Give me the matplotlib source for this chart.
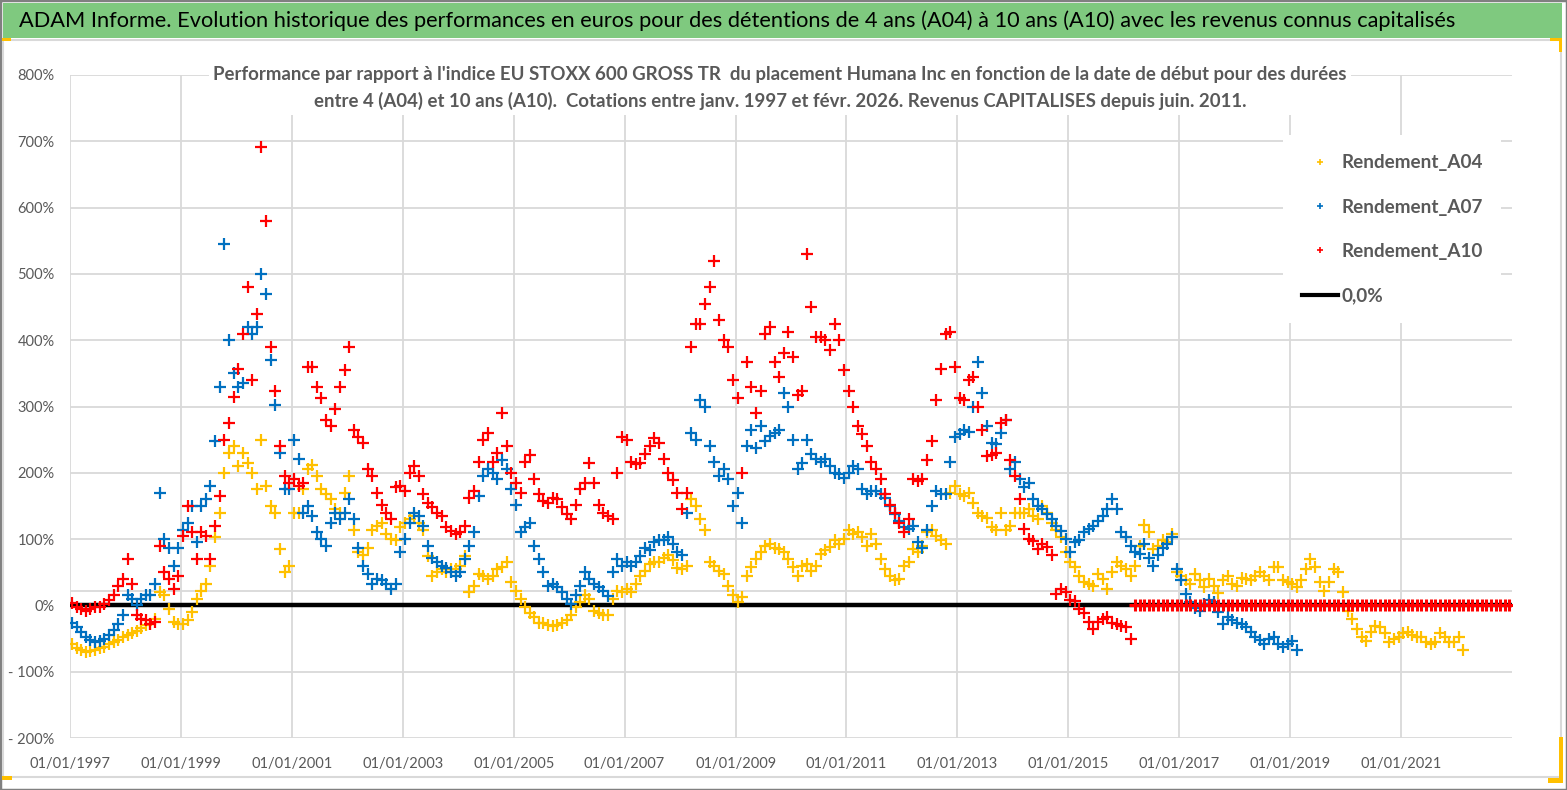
import matplotlib
matplotlib.use("Agg")
import matplotlib.pyplot as plt
import matplotlib.dates as mdates
from matplotlib.lines import Line2D
from matplotlib.patches import Rectangle
from matplotlib.ticker import FixedLocator, FuncFormatter
import pandas as pd

W, H = 1567, 790
FONT = ["Lato", "Liberation Sans", "DejaVu Sans"]
plt.rcParams["font.family"] = FONT

TITLE = ("ADAM Informe. Evolution historique des performances en euros pour des détentions "
         "de 4 ans (A04) à 10 ans (A10) avec les revenus connus capitalisés")
SUBTITLE = ("Performance par rapport à l'indice EU STOXX 600 GROSS TR  du placement Humana Inc "
            "en fonction de la date de début pour des durées\n"
            "entre 4 (A04) et 10 ans (A10).  Cotations entre janv. 1997 et févr. 2026. "
            "Revenus CAPITALISES depuis juin. 2011.")

# monthly readings in %, one row per year, starting January 1997
a04 = [
    -58, -64, -68, -70, -69, -67, -65, -62, -58, -55, -52, -48,
    -45, -42, -38, -34, -30, -28, -20, 20, 15, -5, -25, -28,
    -28, -22, -10, 10, 22, 33, 60, 103, 140, 200, 230, 240,
    210, 230, 215, 200, 175, 250, 180, 150, 140, 85, 50, 60,
    140, 140, 175, 205, 212, 195, 175, 168, 160, 145, 140, 170,
    195, 114, 80, 76, 87, 114, 120, 125, 108, 100, 98, 119,
    125, 130, 135, 125, 114, 75, 45, 50, 55, 50, 55, 55,
    60, 75, 20, 30, 48, 44, 40, 45, 55, 58, 66, 35,
    22, 10, -2, -12, -18, -26, -27, -30, -31, -29, -26, -22,
    -15, -2, 5, 15, 10, -8, -12, -15, -14, 10, 22, 20,
    25, 20, 33, 45, 52, 62, 66, 66, 72, 76, 68, 56,
    55, 60, 160, 150, 130, 114, 66, 60, 52, 48, 30, 15,
    5, 12, 44, 58, 70, 80, 90, 92, 87, 85, 80, 70,
    58, 45, 60, 62, 52, 60, 78, 84, 88, 98, 92, 100,
    114, 108, 110, 103, 90, 108, 92, 70, 55, 45, 39, 40,
    60, 66, 85, 80, 90, 110, 114, 105, 98, 92, 170, 180,
    168, 165, 170, 155, 140, 135, 132, 119, 114, 140, 114, 120,
    140, 140, 140, 146, 135, 130, 150, 140, 125, 114, 103, 81,
    66, 58, 45, 35, 33, 30, 48, 40, 25, 50, 66, 60,
    55, 45, 60, 90, 122, 110, 85, 90, 98, 95, 108, 50,
    44, 38, 33, 48, 38, 28, 40, 30, 18, 38, 44, 33,
    30, 42, 40, 38, 44, 50, 45, 39, 58, 58, 39, 35,
    33, 28, 38, 55, 70, 58, 35, 22, 35, 55, 50, 20,
    -8, -20, -35, -47, -53, -40, -31, -33, -42, -55, -50, -47,
    -42, -40, -45, -47, -47, -55, -58, -55, -42, -47, -55, -55,
    -47, -68,
]

a07 = [
    -26, -33, -40, -47, -52, -55, -54, -50, -45, -37, -28, -15,
    15, 10, 0, 10, 15, 15, 33, 170, 100, 87, 60, 87,
    114, 125, 150, 95, 150, 160, 180, 248, 330, 545, 400, 350,
    329, 335, 420, 410, 420, 500, 470, 370, 302, 230, 175, 175,
    250, 221, 140, 150, 135, 110, 100, 90, 125, 140, 130, 140,
    160, 130, 87, 60, 47, 33, 40, 38, 33, 25, 33, 80,
    100, 125, 140, 135, 120, 90, 71, 65, 60, 57, 50, 44,
    50, 70, 90, 110, 165, 195, 205, 200, 190, 220, 205, 175,
    152, 110, 119, 125, 90, 70, 50, 30, 33, 28, 20, 10,
    2, 15, 30, 50, 40, 33, 28, 22, 14, 50, 70, 60,
    66, 60, 66, 75, 87, 83, 95, 98, 98, 103, 92, 80,
    76, 140, 260, 250, 310, 300, 240, 216, 195, 205, 190, 150,
    170, 125, 240, 265, 238, 270, 248, 255, 260, 265, 320, 300,
    250, 205, 215, 250, 228, 221, 216, 221, 210, 200, 198, 192,
    200, 210, 205, 175, 168, 173, 172, 168, 162, 150, 138, 128,
    119, 115, 120, 95, 87, 114, 150, 172, 168, 168, 216, 254,
    259, 265, 262, 300, 367, 320, 270, 245, 243, 260, 280, 205,
    216, 190, 178, 185, 160, 150, 145, 138, 130, 120, 112, 100,
    80, 95, 98, 110, 115, 120, 128, 135, 145, 160, 145, 110,
    103, 90, 81, 78, 92, 71, 60, 76, 87, 92, 103, 55,
    39, 17, 5, -4, -8, 2, 8, 5, -10, -28, -17, -22,
    -26, -28, -33, -40, -47, -52, -58, -50, -48, -58, -62, -58,
    -53, -68,
]

a10 = [
    4, -2, -5, -8, -5, -3, -2, 2, 8, 15, 30, 40,
    70, 33, -15, -20, -22, -28, -25, 90, 50, 40, 25, 45,
    105, 150, 110, 70, 110, 105, 70, 120, 165, 250, 275, 315,
    356, 410, 480, 340, 440, 692, 580, 390, 324, 240, 195, 185,
    190, 180, 185, 360, 360, 330, 313, 280, 270, 296, 330, 355,
    390, 265, 254, 245, 205, 195, 170, 152, 140, 130, 178, 180,
    173, 200, 210, 195, 168, 155, 148, 140, 135, 118, 112, 108,
    110, 120, 162, 173, 216, 250, 260, 216, 230, 290, 240, 200,
    184, 170, 216, 227, 190, 168, 157, 155, 162, 160, 148, 138,
    130, 152, 175, 185, 215, 185, 152, 140, 135, 130, 200, 254,
    250, 216, 213, 215, 228, 240, 252, 245, 221, 200, 189, 170,
    146, 170, 390, 425, 425, 455, 480, 520, 430, 400, 390, 340,
    313, 200, 367, 330, 290, 324, 410, 420, 367, 345, 380, 412,
    375, 318, 324, 530, 450, 405, 405, 400, 385, 425, 400, 355,
    324, 300, 270, 258, 240, 216, 205, 190, 168, 152, 140, 125,
    110, 130, 190, 188, 190, 220, 248, 310, 356, 410, 412, 360,
    313, 310, 340, 345, 300, 265, 225, 227, 230, 275, 280, 220,
    195, 160, 115, 100, 97, 85, 92, 88, 76, 17, 25, 20,
    8, 6, -5, -12, -25, -35, -25, -20, -17, -26, -28, -31,
    -33, -50,
]
# after Feb 2016 the 10-year series is shown at 0 until the end of the axis
a10_flat_start = "2016-03"
a10_flat = [0] * 82

x_tick_labels = ["01/01/1997", "01/01/1999", "01/01/2001", "01/01/2003", "01/01/2005",
                 "01/01/2007", "01/01/2009", "01/01/2011", "01/01/2013", "01/01/2015",
                 "01/01/2017", "01/01/2019", "01/01/2021"]
y_ticks = [-200, -100, 0, 100, 200, 300, 400, 500, 600, 700, 800]

YELLOW, BLUE, RED = "#FFC000", "#0070C0", "#FF0000"
GREY_TXT, GRID = "#595959", "#D9D9D9"


def months(start, values):
    return pd.date_range(start, periods=len(values), freq="MS") + pd.Timedelta(days=14)


fig = plt.figure(figsize=(W / 100, H / 100), dpi=100)

# frame, green title band and small yellow handles
fig.patches.append(Rectangle((0, 0), 1, 1, transform=fig.transFigure, fill=False,
                             edgecolor="#808080", lw=2.5))
fig.patches.append(Rectangle((3 / W, 1 - 38 / H), 1559 / W, 35 / H, transform=fig.transFigure,
                             facecolor="#7FC97F", edgecolor="none"))
fig.patches.append(Rectangle((3 / W, 1 - 777 / H), 1558 / W, 737 / H, transform=fig.transFigure,
                             fill=False, edgecolor=GRID, lw=1.5))
for (x0, y0, w, h) in [(2, 38, 9, 3), (1550, 38, 12, 3), (1559, 38, 3, 14),
                       (1559, 737, 4, 46), (1548, 778, 15, 5), (2, 776, 10, 4)]:
    fig.patches.append(Rectangle((x0 / W, 1 - (y0 + h) / H), w / W, h / H,
                                 transform=fig.transFigure, facecolor="#FFC000",
                                 edgecolor="none"))

fig.text(737 / W, 1 - 21 / H, TITLE, ha="center", va="center", fontsize=15.7, color="black")

ax = fig.add_axes([70 / W, 1 - 738 / H, (1512 - 70) / W, (738 - 75) / H])

ax.axhline(0, color="black", lw=3.2, zorder=2)
ax.axhline(22, color=GRID, lw=1.3, zorder=1)

ax.plot(months("1997-01", a04), a04, ls="none", marker="+", ms=8, mew=1.6,
        color=YELLOW, zorder=3)
ax.plot(months("1997-01", a07), a07, ls="none", marker="+", ms=8, mew=1.6,
        color=BLUE, zorder=4)
ax.plot(months("1997-01", a10), a10, ls="none", marker="+", ms=8, mew=1.6,
        color=RED, zorder=5)
ax.plot(months(a10_flat_start, a10_flat), a10_flat, ls="none", marker="+", ms=8, mew=2.2,
        color=RED, zorder=5)

ax.set_xlim(pd.Timestamp("1997-01-01"), pd.Timestamp("2023-01-01"))
ax.set_ylim(-200, 800)
tick_dates = pd.to_datetime(x_tick_labels, format="%d/%m/%Y")
ax.xaxis.set_major_locator(FixedLocator(mdates.date2num(tick_dates)))
ax.xaxis.set_major_formatter(FuncFormatter(lambda v, p: mdates.num2date(v).strftime("%d/%m/%Y")))
ax.yaxis.set_major_locator(FixedLocator(y_ticks))
ax.yaxis.set_major_formatter(FuncFormatter(
    lambda v, p: f"{v:.0f}%" if v >= 0 else f"- {abs(v):.0f}%"))
ax.grid(True, color=GRID, lw=1.3, zorder=0)
ax.set_axisbelow(True)
for s in ax.spines.values():
    s.set_visible(False)
ax.tick_params(length=0, colors=GREY_TXT, labelsize=10.5)
ax.tick_params(axis="x", pad=14)
ax.tick_params(axis="y", pad=11)

fig.text(780 / W, 1 - 88 / H, SUBTITLE, ha="center", va="center", fontsize=13.4,
         fontweight="bold", color=GREY_TXT, linespacing=1.65,
         bbox=dict(facecolor="white", edgecolor="none", pad=3), zorder=6)

handles = [
    Line2D([], [], ls="none", marker="+", ms=5, mew=1.2, color=YELLOW),
    Line2D([], [], ls="none", marker="+", ms=5, mew=1.2, color=BLUE),
    Line2D([], [], ls="none", marker="+", ms=5, mew=1.2, color=RED),
    Line2D([], [], color="black", lw=3),
]
labels = ["Rendement_A04", "Rendement_A07", "Rendement_A10", "0,0%"]
leg = ax.legend(handles, labels, loc="upper left", bbox_to_anchor=(1274 / W, 1 - 126 / H),
                bbox_transform=fig.transFigure, frameon=True, facecolor="white",
                edgecolor="none", framealpha=1, fancybox=False,
                prop=dict(family=FONT, weight="bold", size=13.6), labelcolor=GREY_TXT,
                handlelength=1.9, handletextpad=0.15, labelspacing=1.45, borderpad=1.0)
leg.set_zorder(6)

fig.savefig("out.png", dpi=100)
